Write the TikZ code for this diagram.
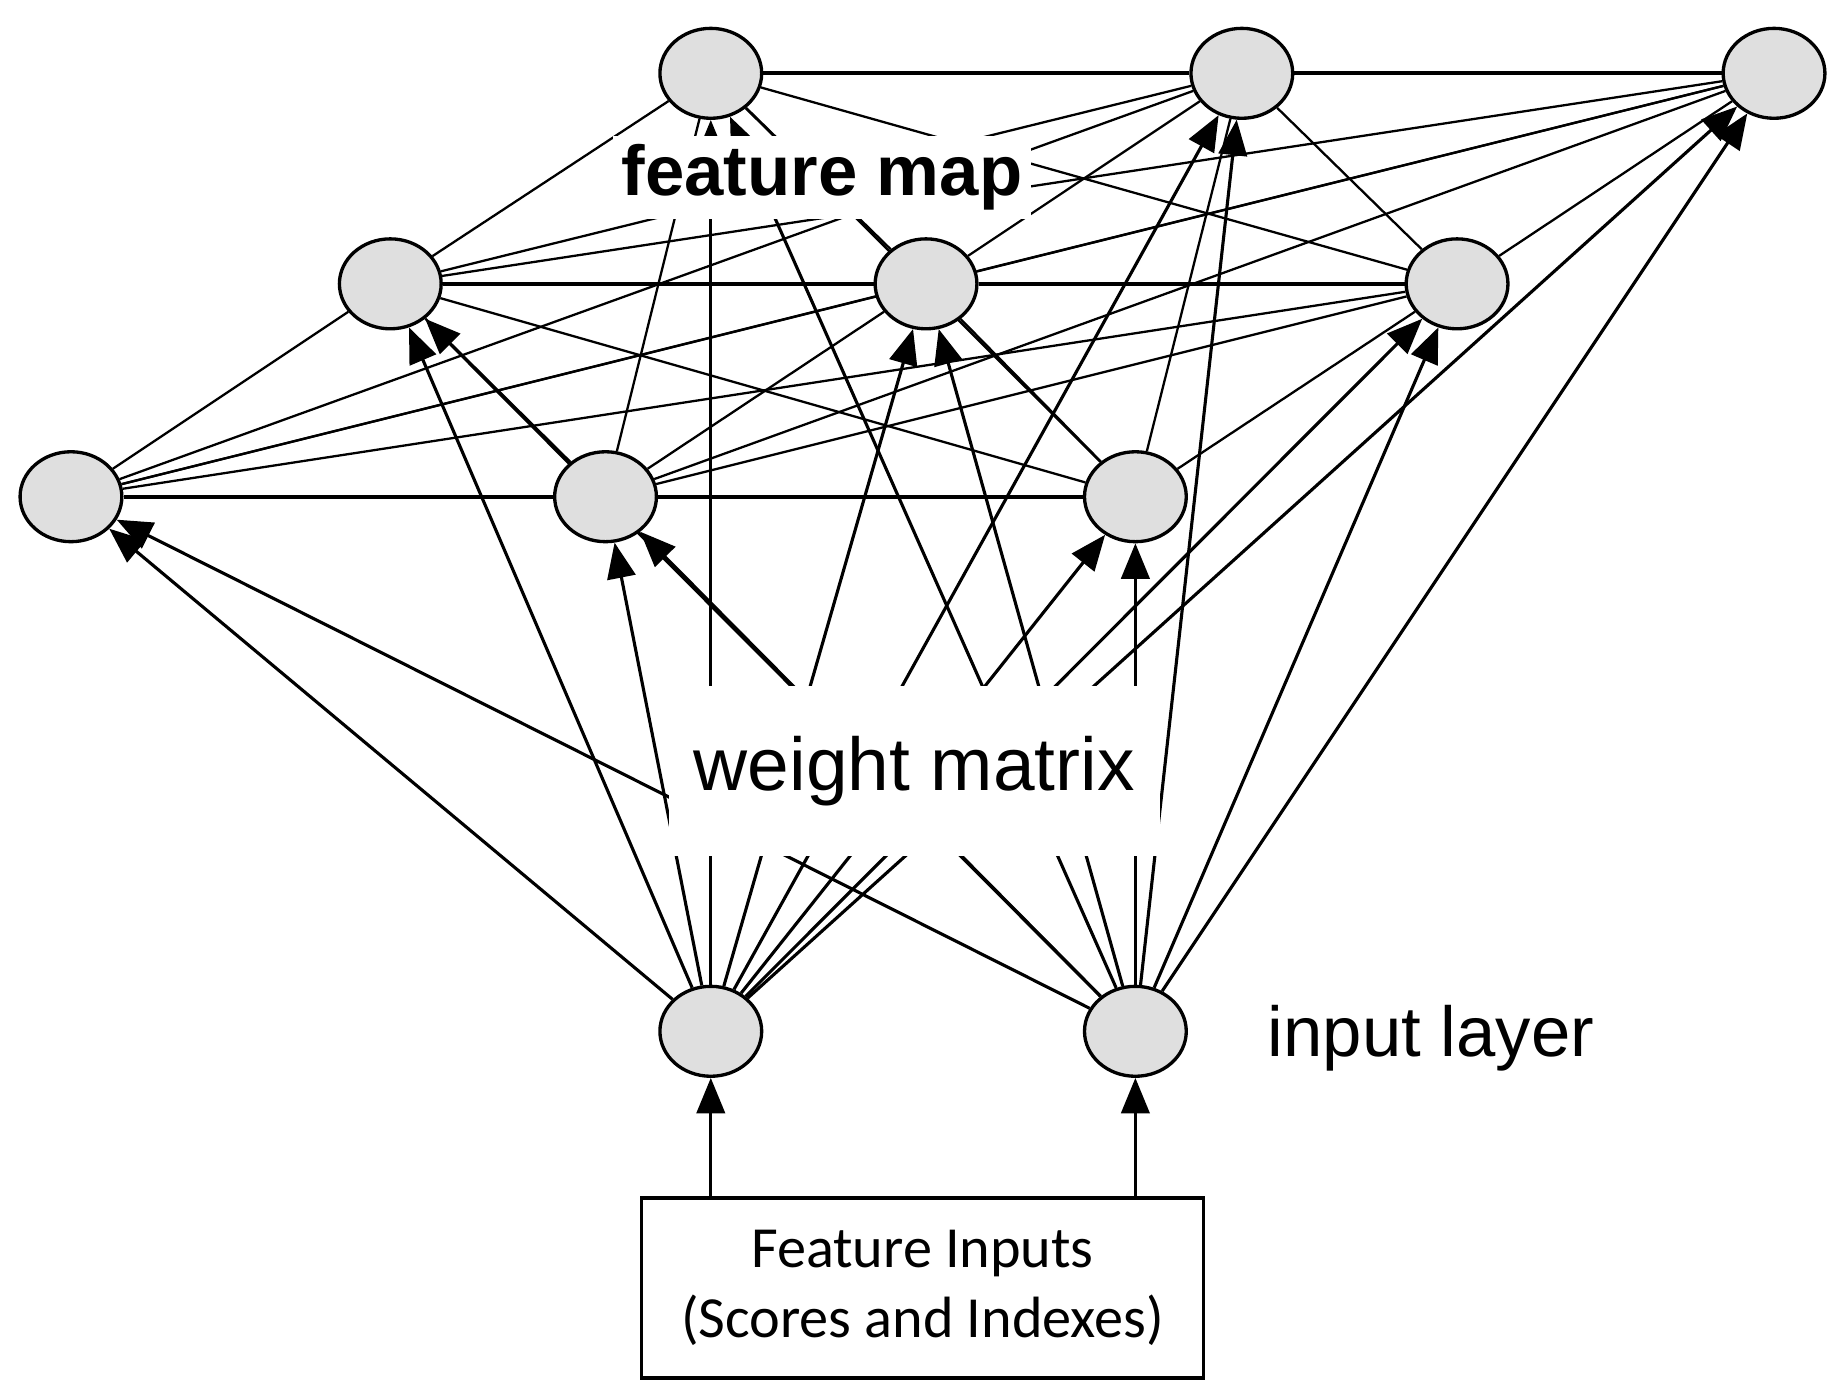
\documentclass[tikz,border=0pt]{standalone}
\usepackage{fontspec}
\setmainfont{Liberation Sans}
\newfontfamily\carl{Carlito}
\usetikzlibrary{arrows.meta,shapes.geometric}
\pgfdeclarelayer{bg}
\pgfsetlayers{bg,main}
\begin{document}
\begin{tikzpicture}[x=0.01cm,y=-0.01cm,
  nd/.style={ellipse,draw,line width=0.8pt,fill=gray!25,minimum width=0.86cm,minimum height=0.76cm,inner sep=0pt},
  ln/.style={line width=0.55pt},
  ar/.style={line width=0.75pt,-{Triangle[length=0.3cm,width=0.24cm]}},
  lbl/.style={fill=white,inner sep=2pt}]
\useasboundingbox (0,0) rectangle (1560,1179.5);
\node[nd] (T1) at (601,62) {};
\node[nd] (T2) at (1050,62) {};
\node[nd] (T3) at (1500,62) {};
\node[nd] (M1) at (330,240) {};
\node[nd] (M2) at (783,240) {};
\node[nd] (M3) at (1232,240) {};
\node[nd] (L1) at (60,420) {};
\node[nd] (L2) at (512,420) {};
\node[nd] (L3) at (960,420) {};
\node[nd] (I1) at (601,872) {};
\node[nd] (I2) at (960,872) {};
\node[draw,line width=0.8pt,minimum width=4.75cm,minimum height=1.52cm,align=center,font=\carl\fontsize{14}{17}\selectfont] (B) at (780,1089) {Feature Inputs\\(Scores and Indexes)};
\begin{pgfonlayer}{bg}
\foreach \a/\b in {T1/T2,T2/T3,M1/M2,M2/M3,L1/L2,L2/L3}
  \draw[line width=1pt] (\a) -- (\b);
\foreach \a/\b in {L1/M1,L1/M2,L1/M3,L1/T2,L1/T3,
  L2/M1,L2/M2,L2/M3,L2/T1,L2/T3,
  L3/M1,L3/M2,L3/M3,L3/T1,L3/T2,
  M1/T1,M1/T2,M1/T3,M2/T1,M2/T2,M2/T3,M3/T1,M3/T2,M3/T3}
  \draw[ln] (\a) -- (\b);
\foreach \t in {L1,L2,L3,M1,M2,M3,T1,T2,T3}{
  \draw[ar] (I1) -- (\t);
  \draw[ar] (I2) -- (\t);}
\end{pgfonlayer}
\draw[ar] (B.north -| I1) -- (I1);
\draw[ar] (B.north -| I2) -- (I2);
\node[lbl,font=\bfseries\fontsize{17}{20}\selectfont] (FM) at (695,150) {feature map};
\node[lbl,font=\fontsize{18}{21}\selectfont,inner xsep=6pt,inner ysep=12pt] (WM) at (773,652) {weight matrix};
\node[font=\fontsize{17}{20}\selectfont] (IL) at (1210,878) {input layer};
\end{tikzpicture}
\end{document}
